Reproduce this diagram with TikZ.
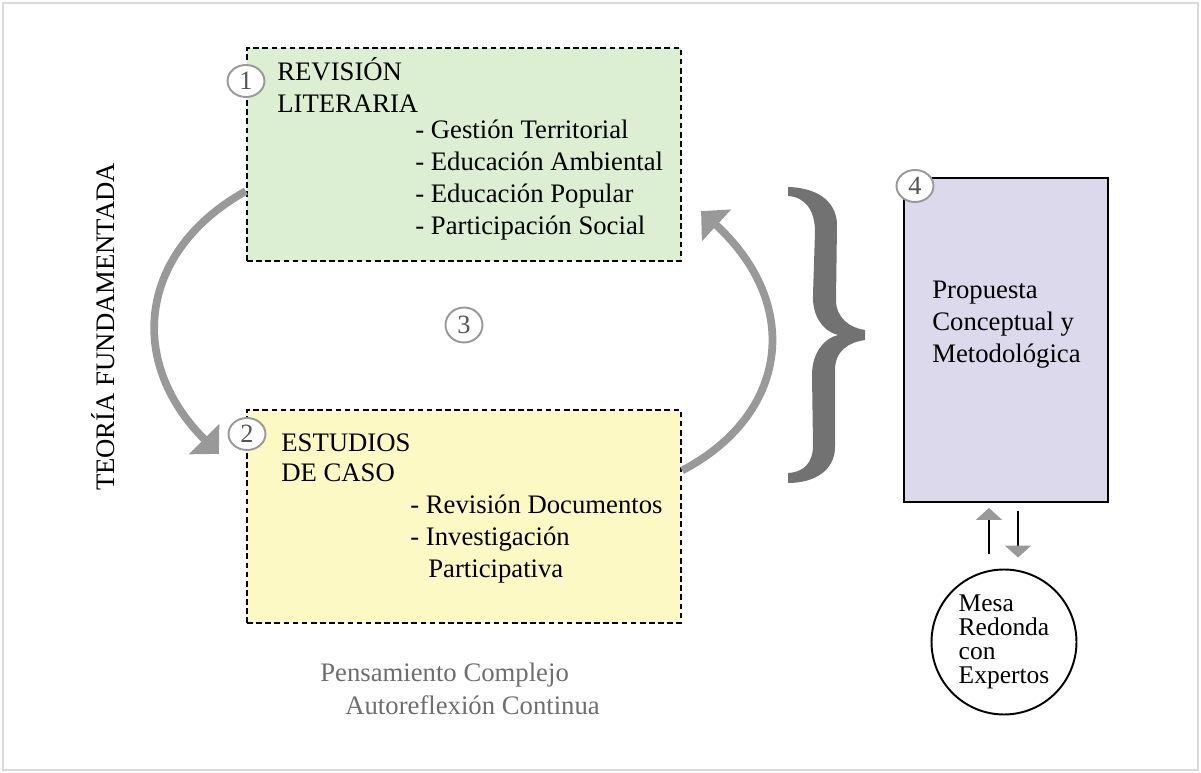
\documentclass[tikz,border=0pt]{standalone}
\usepackage{fontspec}
\setmainfont{Liberation Serif}
\usetikzlibrary{arrows.meta,calc,shapes.geometric}

\definecolor{litgreen}{HTML}{DCEFD3}
\definecolor{casoyellow}{HTML}{FDF9C5}
\definecolor{proplilac}{HTML}{DCD9EC}
\definecolor{cyclegray}{HTML}{999999}
\definecolor{bracegray}{HTML}{727272}
\definecolor{framegray}{HTML}{DADADA}
\definecolor{numgray}{HTML}{555555}

\tikzset{
  phasebox/.style={draw=black, line width=1.3pt, dash pattern=on 3.2pt off 2pt,
    minimum width=8.68cm, minimum height=4.26cm, inner sep=0pt},
  numcirc/.style={ellipse, draw=cyclegray, line width=1.1pt, fill=white,
    minimum width=0.74cm, minimum height=0.64cm, inner sep=0pt, text=numgray,
    font=\fontsize{15}{16}\selectfont},
  txt/.style={font=\fontsize{15.2}{18.4}\selectfont, align=left, inner sep=0pt, anchor=base west},
  cycarrow/.style={draw=cyclegray, line width=4.4pt, -{Triangle[width=0.84cm,length=0.42cm]}},
  ioarrow/.style={line width=1.1pt, -{Triangle[width=0.52cm,length=0.24cm,color=cyclegray]}},
}

\begin{document}
\begin{tikzpicture}[x=0.02cm, y=-0.02cm]

      \useasboundingbox (0,0) rectangle (1201,773);
      \draw[framegray, line width=1.1pt] (3,3) rectangle (1198,770);

      % fases
      \node[phasebox, fill=litgreen] (lit) at (464,154.5) {};
      \node[phasebox, fill=casoyellow] (caso) at (464,516.5) {};
      \node[draw, line width=1.1pt, fill=proplilac, minimum width=4.08cm,
        minimum height=6.48cm, inner sep=0pt] (prop) at (1006,340) {};

      % textos (base = ultima linea)
      \node[txt] (litT) at (277,113) {REVISIÓN\\LITERARIA};
      \node[txt] (litL) at (415,235) {- Gestión Territorial\\- Educación Ambiental\\
        - Educación Popular\\- Participación Social};
      \node[txt, font=\fontsize{15.2}{17.6}\selectfont] (casoT) at (281,482) {ESTUDIOS\\DE CASO};
      \node[txt] (casoL) at (410,578) {- Revisión Documentos\\- Investigación\\
        \hspace*{0.36cm}Participativa};
      \node[txt] (propT) at (932,363) {Propuesta\\Conceptual y\\Metodológica};

      % ciclo
      \draw[cycarrow] ($(lit.south west)+(0,-71)$) .. controls (140,250) and (125,360)
        .. ($(caso.north west)+(-27,45)$);
      \draw[cycarrow] ($(caso.east)+(0,-46)$) .. controls (788,415) and (803,305)
        .. ($(lit.south east)+(19,-51)$);

      \node[numcirc] (num1) at (246,81) {1};
      \node[numcirc] (num2) at (247,434) {2};
      \node[numcirc, minimum height=0.7cm] (num3) at (464,325) {3};
      \node[numcirc] (num4) at (915,186) {4};

      % llave
      \fill[bracegray] (788,187) .. controls (822,188) and (837,205) .. (837,225)
        -- (836,300) .. controls (836,318) and (850,328) .. (865,330) -- (865,340)
        .. controls (850,342) and (835,350) .. (835,370) -- (835,447)
        .. controls (835,470) and (815,483) .. (788,483) -- (788,473)
        .. controls (805,472) and (813,462) .. (813,445) -- (812,375)
        .. controls (812,352) and (825,338) .. (838,335)
        .. controls (825,332) and (812,318) .. (813,295) -- (815,232)
        .. controls (815,210) and (805,197) .. (788,196) -- cycle;

      % mesa redonda
      \node[circle, draw, line width=1.1pt, minimum size=2.9cm, inner sep=0pt, align=left,
        font=\fontsize{14.5}{13.6}\selectfont] (mesa) at (1004,642) {Mesa\\Redonda\\con\\Expertos};
      \draw[ioarrow] ($(mesa.north)+(-15,-15)$) -- ($(mesa.north |- prop.south)+(-15,5)$);
      \draw[ioarrow] ($(mesa.north |- prop.south)+(14,8)$) -- ($(mesa.north)+(14,-11)$);

      \node[txt, anchor=base, rotate=90] (teoria) at (114,327) {TEORÍA FUNDAMENTADA};
      \node[txt, text=numgray!85] (pens) at (320,714) {Pensamiento Complejo\\
        \hspace*{0.5cm}Autoreflexión Continua};

    \end{tikzpicture}
\end{document}
